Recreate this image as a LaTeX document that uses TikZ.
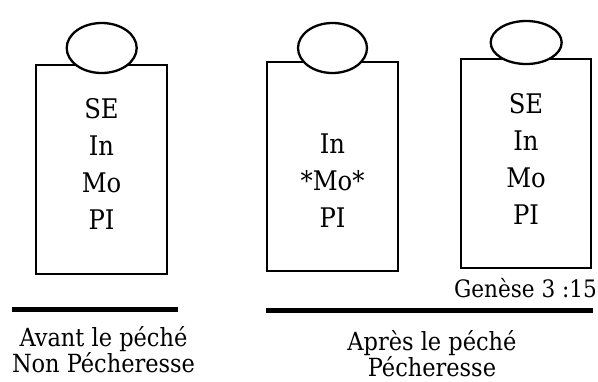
\documentclass[tikz,border=0pt]{standalone}
\usepackage{fontspec}
\setmainfont{DejaVu Serif Condensed}
\usetikzlibrary{shapes.geometric}

\begin{document}
\begin{tikzpicture}[x=1pt, y=-1pt,
every node/.style = {inner sep=0pt, outer sep=0pt},
body/.style = {draw, line width=2.3pt, minimum width=131pt, minimum height=209pt},
head/.style = {draw, ellipse, fill=white, line width=2.3pt},
words/.style = {align=center, font=\fontsize{27}{37}\selectfont},
caption/.style = {align=center, font=\fontsize{25}{25.5}\selectfont},
bar/.style = {line width=5pt}]

\useasboundingbox (0,0) rectangle (598,381);

% avant
\node[body] (body1) at (101.5,169.5) {};
\node[head, minimum width=70pt, minimum height=50pt] (head1) at (101.7,48) {};
\node[words] (text1) at (101.5,163.6) {SE\\In\\Mo\\PI};

% apres
\node[body] (body2) at (332.5,166.5) {};
\node[head, minimum width=69pt, minimum height=50pt] (head2) at (332.5,48) {};
\node[words] (text2) at (332.5,180.6) {In\\*Mo*\\PI};

\node[body, minimum width=130pt] (body3) at (526,163.5) {};
\node[head, minimum width=71pt, minimum height=43pt] (head3) at (526.2,42.5) {};
\node[words] (text3) at (526,158.7) {SE\\In\\Mo\\PI};
\node[caption, font=\fontsize{24}{28}\selectfont] (verse) at (525.5,288) {Genèse 3 :15};

% barres
\draw[bar] (12,309) -- (178,309);
\draw[bar] (266,310) -- (593,310);
\node[caption] (before) at (103.5,349.7) {Avant le péché\\Non Pécheresse};
\node[caption] (after) at (432,353.5) {Après le péché\\Pécheresse};
\end{tikzpicture}
\end{document}
